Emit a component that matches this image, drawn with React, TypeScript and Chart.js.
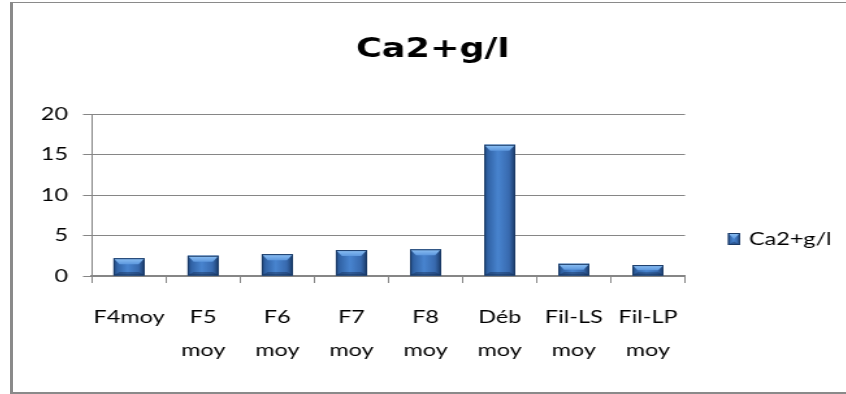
import React, { useEffect, useRef } from "react";
import { Chart, registerables } from "chart.js";

Chart.register(...registerables);

// ---- data ----
const categories = ["F4moy", "F5 moy", "F6 moy", "F7 moy", "F8 moy", "Déb moy", "Fil-LS moy", "Fil-LP moy"];
const ca2Values = [2.2, 2.5, 2.7, 3.2, 3.3, 16.2, 1.5, 1.35];
const yTickValues = [0, 5, 10, 15, 20];
const seriesName = "Ca2+g/l";
const titleText = "Ca2+g/l";

// ---- layout (final page pixels) ----
const S = 1.3; // horizontal stretch of the whole drawing
const PAGE_W = 846;
const PAGE_H = 394;
const CANVAS_LEFT = 20;
const PLOT_LEFT = 92;
const PLOT_RIGHT = 685;
const PLOT_BOTTOM = 276;
const canvasW = Math.round((PAGE_W - CANVAS_LEFT) / S);
const yAxisW = (PLOT_LEFT - CANVAS_LEFT) / S;
const rightPad = canvasW - (PLOT_RIGHT - CANVAS_LEFT) / S;

const FONT = "Lato";
const GRID = "#868686";

function barGradient(ctx: CanvasRenderingContext2D, l: number, r: number) {
  const g = ctx.createLinearGradient(l, 0, r, 0);
  g.addColorStop(0, "#1d4478");
  g.addColorStop(0.12, "#3163a6");
  g.addColorStop(0.45, "#4884cf");
  g.addColorStop(0.8, "#386aaf");
  g.addColorStop(1, "#1a3a68");
  return g;
}

function drawBevelBox(ctx: CanvasRenderingContext2D, l: number, r: number, t: number, b: number) {
  const h = b - t;
  const by = Math.min(6, h / 2);
  const bx = Math.min(by / S, (r - l) / 2);
  ctx.save();
  ctx.fillStyle = barGradient(ctx, l, r);
  ctx.fillRect(l, t, r - l, h);
  const tg = ctx.createLinearGradient(0, t, 0, t + by);
  tg.addColorStop(0, "#8fc2f5");
  tg.addColorStop(1, "#5d98de");
  ctx.fillStyle = tg;
  ctx.beginPath();
  ctx.moveTo(l, t);
  ctx.lineTo(r, t);
  ctx.lineTo(r - bx, t + by);
  ctx.lineTo(l + bx, t + by);
  ctx.closePath();
  ctx.fill();
  ctx.fillStyle = "rgba(20,45,85,0.45)";
  ctx.beginPath();
  ctx.moveTo(l, b);
  ctx.lineTo(r, b);
  ctx.lineTo(r - bx, b - by * 0.6);
  ctx.lineTo(l + bx, b - by * 0.6);
  ctx.closePath();
  ctx.fill();
  ctx.strokeStyle = "#1a3a66";
  ctx.lineWidth = 1;
  ctx.strokeRect(l + 0.5, t + 0.5, r - l - 1, h - 1);
  ctx.restore();
}

const bevelPlugin = {
  id: "bevelBars",
  afterDatasetsDraw(chart: any) {
    const ctx = chart.ctx as CanvasRenderingContext2D;
    const meta = chart.getDatasetMeta(0);
    meta.data.forEach((el: any) => {
      const p = el.getProps(["x", "y", "base", "width"], true);
      drawBevelBox(ctx, p.x - p.width / 2, p.x + p.width / 2, Math.min(p.y, p.base), Math.max(p.y, p.base));
    });
  },
};

const legendPlugin = {
  id: "rightLegend",
  afterDraw(chart: any) {
    const ctx = chart.ctx as CanvasRenderingContext2D;
    const cy = 239;
    const bx = (728 - CANVAS_LEFT) / S;
    const bw = 12 / S;
    drawBevelBox(ctx, bx, bx + bw, cy - 6, cy + 6);
    ctx.save();
    ctx.font = `18px ${FONT}`;
    ctx.fillStyle = "#000";
    ctx.textBaseline = "middle";
    ctx.textAlign = "left";
    ctx.fillText(seriesName, (749 - CANVAS_LEFT) / S, cy);
    ctx.restore();
  },
};

export default function App() {
  const ref = useRef<HTMLCanvasElement>(null);
  useEffect(() => {
    document.body.style.margin = "0";
    const chart = new Chart(ref.current!, {
      type: "bar",
      data: {
        labels: categories,
        datasets: [
          {
            label: seriesName,
            data: ca2Values,
            backgroundColor: "#3d74bb",
            borderWidth: 0,
            barPercentage: 0.42,
            categoryPercentage: 1,
            yAxisID: "y",
          },
        ],
      },
      options: {
        responsive: false,
        animation: false,
        layout: { padding: 0 },
        plugins: {
          legend: { display: false },
          tooltip: { enabled: false },
          title: {
            display: true,
            text: titleText,
            color: "#000",
            font: { family: "DejaVu Sans", size: 27, weight: "bold" },
            padding: { top: 34, bottom: 114 - 34 - 27 * 1.2 },
          },
        },
        scales: {
          x: {
            grid: { drawOnChartArea: false, drawTicks: true, tickLength: 7, color: GRID, offset: true },
            border: { color: GRID, width: 2 },
            ticks: {
              color: "#000",
              font: { family: FONT, size: 18, lineHeight: 33 / 18 },
              padding: 18,
              maxRotation: 0,
              autoSkip: false,
              callback: (_v: any, i: number) => categories[i].split(" "),
            },
            afterFit: (s: any) => {
              s.height = PAGE_H - PLOT_BOTTOM;
            },
          },
          y: {
            min: yTickValues[0],
            max: yTickValues[yTickValues.length - 1],
            grid: { color: GRID, tickLength: 9 / S },
            border: { color: GRID },
            ticks: {
              stepSize: 5,
              color: "#000",
              font: { family: FONT, size: 18 },
              padding: 15 / S,
            },
            afterFit: (s: any) => {
              s.width = yAxisW;
            },
          },
          legendSpace: {
            type: "linear",
            position: "right",
            display: true,
            grid: { display: false, drawTicks: false },
            border: { display: false },
            ticks: { display: false },
            afterFit: (s: any) => {
              s.width = rightPad;
            },
          },
        },
      },
      plugins: [bevelPlugin, legendPlugin],
    });
    return () => chart.destroy();
  }, []);

  return (
    <div style={{ position: "relative", width: PAGE_W, height: PAGE_H, overflow: "hidden", background: "#fff" }}>
      <div
        style={{
          position: "absolute",
          left: 10,
          top: 2,
          width: PAGE_W,
          height: 392,
          boxSizing: "border-box",
          borderLeft: "3px solid #8a8a8a",
          borderTop: "1px solid #8a8a8a",
          borderBottom: "2px solid #8a8a8a",
        }}
      />
      <div
        style={{
          position: "absolute",
          left: CANVAS_LEFT,
          top: 0,
          width: canvasW,
          height: PAGE_H,
          transform: `scaleX(${S})`,
          transformOrigin: "0 0",
        }}
      >
        <canvas ref={ref} width={canvasW} height={PAGE_H} style={{ width: canvasW, height: PAGE_H, display: "block" }} />
      </div>
    </div>
  );
}
